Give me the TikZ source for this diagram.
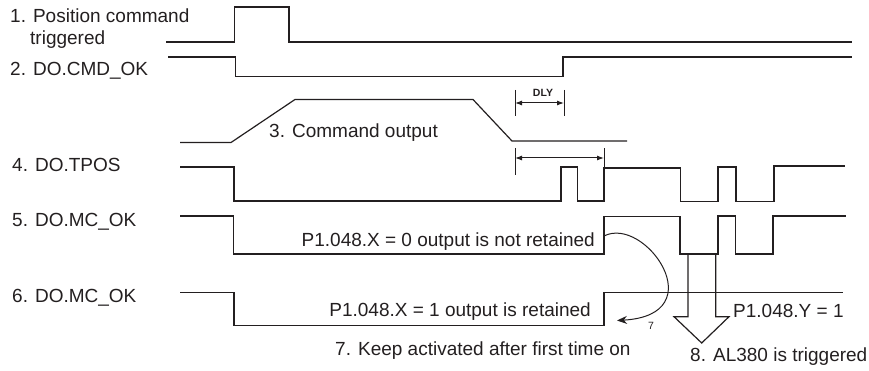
\documentclass[tikz,border=0pt]{standalone}
\usepackage{fontspec}
\setmainfont{Liberation Sans}
\usetikzlibrary{arrows.meta}
\definecolor{ink}{RGB}{35,31,32}
\begin{document}
\begin{tikzpicture}[x=1pt,y=-1pt,line join=miter,
  sig/.style={draw=ink,line width=1.2pt},
  lbl/.style={anchor=base west,inner sep=0pt,text=ink,font=\fontsize{19}{22}\selectfont},
  lblr/.style={lbl,anchor=base east},
  small/.style={inner sep=0pt,text=ink,font=\fontsize{10.5}{12}\selectfont},
  dimline/.style={draw=ink,line width=1pt},
  dimarr/.style={draw=ink,line width=1pt,{Latex[length=7pt,width=5pt]}-{Latex[length=7pt,width=5pt]}},
  curvarr/.style={draw=ink,line width=1pt,-{Stealth[length=10pt,width=8pt]}},
  bigarrow/.style={draw=ink,line width=1.2pt}
]
\useasboundingbox (0,0) rectangle (869,371);

% labels
\node[lbl] (l1a) at (10,23) {1. Position command};
\node[lbl] (l1b) at (30,45) {triggered};
\node[lbl] (l2) at (10,76) {2. DO.CMD\_OK};
\node[lbl] (l3) at (269,138) {3. Command output};
\node[lbl] (l4) at (12,172) {4. DO.TPOS};
\node[lbl] (l5) at (12,226) {5. DO.MC\_OK};
\node[lbl] (l6) at (12,302.5) {6. DO.MC\_OK};
\node[lblr] (px0) at (595,246.7) {P1.048.X = 0 output is not retained};
\node[lblr] (px1) at (591,316.7) {P1.048.X = 1 output is retained};
\node[lbl] (py) at (733,317.7) {P1.048.Y = 1};
\node[lbl] (l7) at (335,355) {7. Keep activated after first time on};
\node[lbl] (l8) at (690,361.7) {8. AL380 is triggered};
\node[small,font=\fontsize{10.5}{12}\selectfont\bfseries] (dly) at (543,93) {DLY};
\node[small] (n7) at (651,326) {7};

% signal 1
\draw[sig] (166,42) -- (234.5,42) -- (234.5,7) -- (289,7) -- (289,42) -- (852,42);
% signal 2
\draw[sig] (168,57) -- (235.5,57) -- (235.5,76.5) -- (563,76.5) -- (563,57) -- (852,57);
% signal 3
\draw[sig] (180,142.5) -- (231,142.5) -- (295,99.5) -- (473,99.5) -- (512,141) -- (627,141);
% signal 4
\draw[sig] (180,167) -- (234,167) -- (234,201) -- (561,201) -- (561,167) -- (577.5,167)
  -- (577.5,201) -- (604,201) -- (604,168) -- (680.5,168) -- (680.5,201.5) -- (718,201.5)
  -- (718,167) -- (736,167) -- (736,201.5) -- (774,201.5) -- (774,166) -- (845,166);
% signal 5
\draw[sig] (180,216) -- (233.5,216) -- (233.5,254) -- (604,254) -- (604,216.5) -- (680,216.5)
  -- (680,254) -- (718,254) -- (718,216) -- (735.5,216) -- (735.5,254) -- (773,254)
  -- (773,216) -- (846,216);
% signal 6
\draw[sig] (180,292.5) -- (234,292.5) -- (234,325.5) -- (604,325.5) -- (604,292.5) -- (843,292.5);

% DLY dimension
\coordinate (dA) at (515,103);
\coordinate (dB) at (564,103);
\draw[dimline] (515,90) -- (515,116);
\draw[dimline] (564,90) -- (564,116);
\draw[dimarr] (dA) -- (dB);

% second dimension
\coordinate (eA) at (515,158);
\coordinate (eB) at (604,158);
\draw[dimline] (515,148) -- (515,175);
\draw[dimline] (604,148.5) -- (604,168);
\draw[dimarr] (eA) -- (eB);

% curved arrow 7
\coordinate (cS) at (604,236);
\coordinate (cE) at (617,320.5);
\draw[curvarr] (cS) .. controls (645,215) and (715,315) .. (cE);

% big hollow arrow 8
\draw[bigarrow] (688,254) -- (688,316.7) -- (674,316.7) -- (701.7,343) -- (729,316.7) -- (715.7,316.7) -- (715.7,254);
\end{tikzpicture}
\end{document}
